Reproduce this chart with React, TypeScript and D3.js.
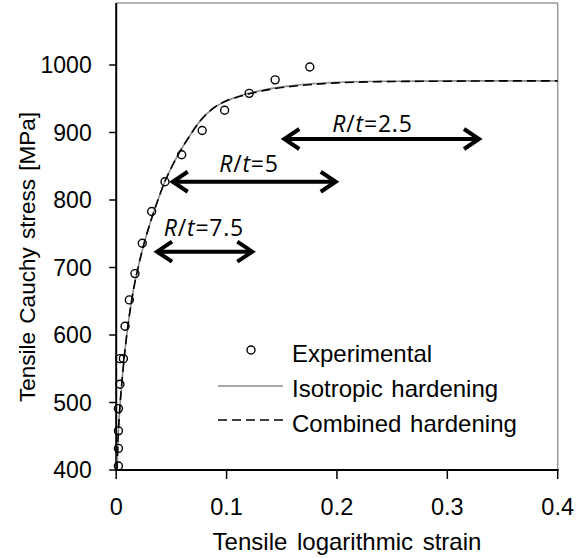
import React from "react";
import * as d3 from "d3";

const xTicks = [0, 0.1, 0.2, 0.3, 0.4];
const yTicks = [400, 500, 600, 700, 800, 900, 1000];

const expStrain = [0.002, 0.002, 0.002, 0.002, 0.0034, 0.0034, 0.0065, 0.008, 0.0119, 0.017, 0.0236, 0.0321, 0.0442, 0.0593, 0.0779, 0.0982, 0.1205, 0.144, 0.1754];
const expStress = [406, 432, 458, 491, 527, 565, 565, 613, 652, 691, 736, 783, 827, 867, 903, 933, 958, 978, 997];

const isoStrain = [0.0008, 0.0015, 0.003, 0.005, 0.0075, 0.01, 0.013, 0.016, 0.02, 0.025, 0.03, 0.035, 0.04, 0.044, 0.05, 0.055, 0.06, 0.067, 0.076, 0.088, 0.1, 0.11, 0.12, 0.14, 0.16, 0.18, 0.2, 0.25, 0.3, 0.35, 0.4];
const isoStress = [400, 438, 485, 527, 570, 606, 641, 670, 701, 734, 762, 787, 810, 827, 848, 864, 878, 896, 917, 936, 947, 953, 958, 965, 969.5, 972.5, 974.5, 976, 976.5, 976.5, 976.5];

const combStrain = [0.0008, 0.0015, 0.003, 0.005, 0.0075, 0.01, 0.013, 0.016, 0.02, 0.025, 0.03, 0.035, 0.04, 0.044, 0.05, 0.055, 0.06, 0.067, 0.076, 0.088, 0.1, 0.11, 0.12, 0.14, 0.16, 0.18, 0.2, 0.25, 0.3, 0.35, 0.4];
const combStress = [400, 438, 485, 527, 570, 606, 641, 670, 701, 734, 762, 787, 810, 827, 848, 864, 878, 896, 917, 936, 947, 952.5, 957, 964, 968.5, 971.5, 973.5, 975.5, 976, 976.5, 976.5];

const arrowLabels = ["7.5", "5", "2.5"];
const arrowStart = [0.0361, 0.0503, 0.1514];
const arrowEnd = [0.1242, 0.1998, 0.3296];
const arrowStress = [723.4, 827, 890.4];
const labelStrain = [0.0795, 0.1203, 0.2322];
const labelStress = [746.7, 842, 901];

const legendLabels = ["Experimental", "Isotropic hardening", "Combined hardening"];

export default function App() {
  const W = 576, H = 558;
  const x = d3.scaleLinear().domain([0, 0.4]).range([116.2, 557.7]);
  const y = d3.scaleLinear().domain([400, 1000]).range([470, 65]);
  const top = 3;
  const font = "'Liberation Sans', Arial, sans-serif";
  const lfont = "'Open Sans', 'Lato', sans-serif";

  const line = d3.line<[number, number]>().x(d => x(d[0])).y(d => y(d[1])).curve(d3.curveMonotoneX);
  const isoPath = line(isoStrain.map((s, i) => [s, isoStress[i]] as [number, number])) || "";
  const combPath = line(combStrain.map((s, i) => [s, combStress[i]] as [number, number])) || "";

  const x0 = x(0), x1 = x(0.4), y0 = y(400);

  return (
    <svg width={W} height={H} style={{ position: "absolute", left: 0, top: 0, background: "#fff" }}>
      {/* frame */}
      <line x1={x0} x2={x1} y1={top} y2={top} stroke="#999" strokeWidth={1.5} />
      <line x1={x1} x2={x1} y1={top} y2={y0} stroke="#999" strokeWidth={1.5} />
      {/* axes */}
      <line x1={x0} x2={x0} y1={top} y2={y0 + 1} stroke="#000" strokeWidth={2} />
      <line x1={x0 - 1} x2={x1 + 1} y1={y0} y2={y0} stroke="#000" strokeWidth={2} />
      {yTicks.map(t => (
        <g key={"y" + t}>
          <line x1={x0 - 7} x2={x0} y1={y(t)} y2={y(t)} stroke="#000" strokeWidth={1.5} />
          <text x={91.7} y={y(t)} dy="0.36em" textAnchor="end" fontFamily={font} fontSize={23} fill="#000">{t}</text>
        </g>
      ))}
      {xTicks.map(t => (
        <g key={"x" + t}>
          <line x1={x(t)} x2={x(t)} y1={y0} y2={y0 + 9} stroke="#000" strokeWidth={1.5} />
          <text x={x(t)} y={515} textAnchor="middle" fontFamily={font} fontSize={23.5} fill="#000">{t}</text>
        </g>
      ))}
      <text x={347} y={550} textAnchor="middle" fontFamily={font} fontSize={24} wordSpacing={3} fill="#000">Tensile logarithmic strain</text>
      <text transform={`translate(27,257) rotate(-90)`} dy="0.36em" textAnchor="middle" fontFamily={font} fontSize={22.5} wordSpacing={2} fill="#000">Tensile Cauchy stress [MPa]</text>

      {/* curves */}
      <path d={isoPath} fill="none" stroke="#8c8c8c" strokeWidth={1.6} />
      <path d={combPath} fill="none" stroke="#000" strokeWidth={1.6} strokeDasharray="9,5" />

      {/* experimental */}
      {expStrain.map((s, i) => (
        <circle key={"e" + i} cx={x(s)} cy={y(expStress[i])} r={4} fill="none" stroke="#000" strokeWidth={1.4} />
      ))}

      {/* arrows */}
      {arrowLabels.map((lab, i) => {
        const ax1 = x(arrowStart[i]);
        const ax2 = x(arrowEnd[i]);
        const ay = y(arrowStress[i]);
        return (
          <g key={"a" + i}>
            <line x1={ax1 + 2} x2={ax2 - 2} y1={ay} y2={ay} stroke="#000" strokeWidth={4} />
            <path d={`M${ax1 + 16},${ay - 10}L${ax1 + 1},${ay}L${ax1 + 16},${ay + 10}`} fill="none" stroke="#000" strokeWidth={4} strokeLinejoin="miter" />
            <path d={`M${ax2 - 16},${ay - 10}L${ax2 - 1},${ay}L${ax2 - 16},${ay + 10}`} fill="none" stroke="#000" strokeWidth={4} strokeLinejoin="miter" />
            <text x={x(labelStrain[i])} y={y(labelStress[i])} textAnchor="middle" fontFamily={lfont} fontSize={23} letterSpacing={0.8} fill="#000">
              <tspan fontStyle="italic">R</tspan>/<tspan fontStyle="italic">t</tspan>={lab}
            </text>
          </g>
        );
      })}

      {/* legend */}
      <circle cx={251} cy={350} r={4} fill="none" stroke="#000" strokeWidth={1.4} />
      <line x1={218} x2={283} y1={386} y2={386} stroke="#8c8c8c" strokeWidth={1.6} />
      <line x1={218} x2={283} y1={420} y2={420} stroke="#000" strokeWidth={1.6} strokeDasharray="9,5" />
      {legendLabels.map((l, i) => (
        <text key={l} x={292} y={353 + i * 35} dy="0.36em" fontFamily={font} fontSize={24} wordSpacing={2} fill="#000">{l}</text>
      ))}
    </svg>
  );
}
